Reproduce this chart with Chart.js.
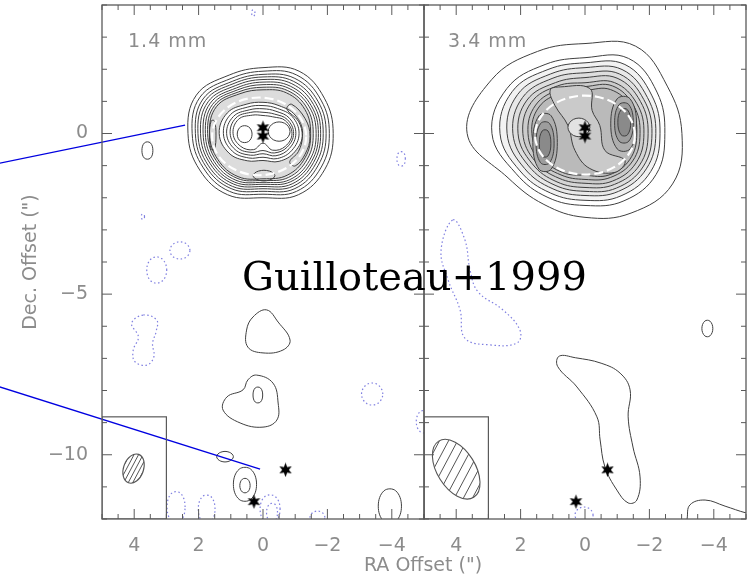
<!DOCTYPE html>
<html>
<head>
<meta charset="utf-8">
<script src="https://cdn.jsdelivr.net/npm/chart.js@4.4.1/dist/chart.umd.min.js"></script>
<style>
  html, body { margin: 0; padding: 0; background: #fff; }
  #wrap { position: relative; width: 752px; height: 578px; overflow: hidden; }
  #wrap canvas { position: absolute; top: 0; }
  .txt { position: absolute; font-family: 'DejaVu Sans', sans-serif; color: #8c8c8c; white-space: nowrap; line-height: 1; }
</style>
</head>
<body>
<div id="wrap">
  <canvas id="pLeft" width="426" height="578" style="left:0"></canvas>
  <canvas id="pRight" width="330" height="578" style="left:422px"></canvas>
  <div class="txt" style="left:128px;top:31px;font-size:19px;letter-spacing:1px">1.4 mm</div>
  <div class="txt" style="left:448px;top:31px;font-size:19px;letter-spacing:1px">3.4 mm</div>
  <div class="txt" style="left:0;width:846px;text-align:center;top:555px;font-size:19px">RA Offset (")</div>
  <div class="txt" style="left:242px;top:256px;font-family:'DejaVu Serif',serif;font-size:40px;color:#000">Guilloteau+1999</div>
</div>
<script>
// angles (deg, as seen on screen: 0 = right, 90 = up) at which the ring radii were read
const ANG = [0, 30, 60, 90, 120, 150, 180, 210, 240, 270, 300, 330];
const xTickVals = [4, 2, 0, -2, -4];
const yTickVals = [0, -5, -10];

// ---------- 1.4 mm : radii (arcsec) of the ring contours, outer side ----------
const ring14Out = [
  [2.18, 2.2, 2.24, 2.05, 2.1, 2.39, 2.33, 2.27, 2.2, 2.0, 2.2, 2.22],
  [2.06, 2.08, 2.1, 1.94, 1.98, 2.26, 2.2, 2.14, 2.08, 1.89, 2.08, 2.09],
  [1.96, 1.98, 1.98, 1.84, 1.88, 2.15, 2.1, 2.05, 1.98, 1.8, 1.98, 1.98],
  [1.87, 1.89, 1.88, 1.76, 1.8, 2.06, 2.02, 1.97, 1.9, 1.72, 1.89, 1.89],
  [1.79, 1.81, 1.79, 1.68, 1.72, 1.97, 1.94, 1.89, 1.82, 1.65, 1.81, 1.81],
  [1.72, 1.73, 1.7, 1.6, 1.64, 1.89, 1.86, 1.82, 1.75, 1.58, 1.73, 1.74],
  [1.65, 1.66, 1.62, 1.52, 1.57, 1.81, 1.79, 1.75, 1.68, 1.52, 1.66, 1.67],
  [1.56, 1.58, 1.54, 1.44, 1.5, 1.74, 1.72, 1.68, 1.61, 1.46, 1.58, 1.59],
  [1.48, 1.5, 1.46, 1.36, 1.43, 1.67, 1.66, 1.62, 1.55, 1.41, 1.5, 1.51]
];
// inner side (cavity), down to the peanut round the stars
const ring14In = [
  [1.23, 1.15, 1.0, 0.97, 1.05, 1.28, 1.36, 1.22, 0.98, 0.84, 1.0, 1.14],
  [1.12, 1.05, 0.9, 0.87, 0.95, 1.17, 1.23, 1.1, 0.88, 0.74, 0.9, 1.04],
  [1.02, 0.95, 0.8, 0.77, 0.85, 1.06, 1.13, 1.0, 0.78, 0.63, 0.8, 0.94],
  [0.95, 0.87, 0.7, 0.66, 0.76, 0.97, 1.02, 0.9, 0.68, 0.53, 0.7, 0.86],
  [0.9, 0.8, 0.6, 0.56, 0.66, 0.88, 0.93, 0.8, 0.58, 0.3, 0.6, 0.8]
];
const islands14 = [
  [[1.46, -0.05], [1.51, 0.39], [1.61, 0.39], [1.66, -0.05], [1.61, -0.49], [1.51, -0.49]],
  [[-0.89, 0.91], [-1.31, 0.46], [-1.46, -0.09], [-1.31, -0.64], [-1.0, -1.01], [-0.83, -0.88], [-1.1, -0.56], [-1.22, -0.09], [-1.1, 0.38], [-0.74, 0.76]],
  [[-0.37, -1.31], [-0.2, -1.17], [0.14, -1.17], [0.31, -1.31], [0.14, -1.45], [-0.2, -1.45]]
];
const lobes14 = [
  [[0.34, -0.02], [0.45, 0.21], [0.69, 0.21], [0.8, -0.02], [0.69, -0.25], [0.45, -0.25]],
  [[-0.84, 0.06], [-0.67, 0.32], [-0.33, 0.32], [-0.16, 0.06], [-0.33, -0.2], [-0.67, -0.2]]
];
const pos14 = [
  [[3.42, -0.53], [3.5, -0.29], [3.68, -0.29], [3.76, -0.53], [3.68, -0.77], [3.5, -0.77]],
  [[-0.11, -5.49], [-0.47, -5.87], [-0.84, -6.43], [-0.62, -6.74], [0, -6.83], [0.47, -6.65], [0.51, -6.12], [0.31, -5.71]],
  [[0.2, -7.52], [-0.31, -7.77], [-0.47, -8.39], [-0.43, -8.92], [0, -9.14], [0.71, -9.01], [1.24, -8.61], [1.12, -8.2], [0.62, -7.98], [0.47, -7.67]],
  [[0.01, -8.14], [0.08, -7.92], [0.24, -7.92], [0.31, -8.14], [0.24, -8.36], [0.08, -8.36]],
  [[0.92, -10.06], [1.05, -9.92], [1.31, -9.92], [1.44, -10.06], [1.31, -10.2], [1.05, -10.2]],
  [[0.2, -10.92], [0.38, -10.45], [0.74, -10.45], [0.92, -10.92], [0.74, -11.39], [0.38, -11.39]],
  [[0.4, -10.96], [0.48, -10.76], [0.64, -10.76], [0.72, -10.96], [0.64, -11.16], [0.48, -11.16]],
  [[-4.3, -11.6], [-4.12, -11.12], [-3.76, -11.12], [-3.58, -11.6], [-3.76, -12.08], [-4.12, -12.08]]
];
const neg14 = [
  [[-4.42, -0.79], [-4.36, -0.59], [-4.22, -0.59], [-4.16, -0.79], [-4.22, -0.99], [-4.36, -0.99]],
  [[3.68, -2.59], [3.7, -2.52], [3.76, -2.52], [3.78, -2.59], [3.76, -2.66], [3.7, -2.66]],
  [[2.27, -3.64], [2.42, -3.41], [2.74, -3.41], [2.89, -3.64], [2.74, -3.87], [2.42, -3.87]],
  [[2.99, -4.25], [3.15, -3.89], [3.46, -3.89], [3.61, -4.25], [3.46, -4.61], [3.15, -4.61]],
  [[3.72, -5.65], [3.3, -5.81], [3.32, -6.17], [3.43, -6.53], [3.39, -6.95], [3.61, -7.21], [3.98, -7.1], [4.03, -6.74], [3.87, -6.33], [4.08, -5.91]],
  [[-3.72, -8.11], [-3.55, -7.81], [-3.23, -7.81], [-3.06, -8.11], [-3.23, -8.41], [-3.55, -8.41]],
  [[-5.24, -8.97], [-5.12, -8.66], [-4.88, -8.66], [-4.76, -8.97], [-4.88, -9.28], [-5.12, -9.28]],
  [[2.42, -11.63], [2.56, -11.2], [2.84, -11.2], [2.98, -11.63], [2.84, -12.06], [2.56, -12.06]],
  [[1.49, -11.69], [1.62, -11.3], [1.88, -11.3], [2.01, -11.69], [1.88, -12.08], [1.62, -12.08]],
  [[-0.53, -11.69], [-0.38, -11.3], [-0.06, -11.3], [0.09, -11.69], [-0.06, -12.08], [-0.38, -12.08]],
  [[-0.45, -11.8], [-0.37, -11.54], [-0.2, -11.54], [-0.11, -11.8], [-0.2, -12.06], [-0.37, -12.06]],
  [[-1.92, -11.95], [-1.81, -11.78], [-1.58, -11.78], [-1.46, -11.95], [-1.58, -12.12], [-1.81, -12.12]],
  [[0.25, 3.75], [0.28, 3.84], [0.33, 3.84], [0.35, 3.75], [0.33, 3.66], [0.28, 3.66]]
];

// ---------- 3.4 mm ----------
const ring34 = [
  [3.01, 2.95, 3.14, 2.8, 2.95, 3.35, 3.66, 2.76, 2.55, 2.61, 2.86, 3.14],
  [2.48, 2.58, 2.7, 2.36, 2.48, 2.8, 2.89, 2.48, 2.3, 2.24, 2.42, 2.55],
  [2.33, 2.39, 2.48, 2.2, 2.3, 2.61, 2.64, 2.33, 2.14, 2.08, 2.24, 2.36],
  [2.2, 2.24, 2.3, 2.05, 2.14, 2.42, 2.42, 2.17, 1.99, 1.93, 2.08, 2.2],
  [2.08, 2.11, 2.14, 1.89, 1.99, 2.24, 2.24, 2.02, 1.86, 1.8, 1.96, 2.08],
  [1.96, 1.99, 1.99, 1.74, 1.83, 2.08, 2.08, 1.89, 1.74, 1.68, 1.83, 1.96],
  [1.83, 1.86, 1.83, 1.58, 1.71, 1.93, 1.93, 1.77, 1.61, 1.55, 1.71, 1.83],
  [1.71, 1.74, 1.71, 1.46, 1.58, 1.77, 1.77, 1.65, 1.49, 1.43, 1.58, 1.71],
  [1.61, 1.65, 1.58, 1.34, 1.46, 1.65, 1.65, 1.52, 1.4, 1.3, 1.49, 1.61]
];
const band34 = [[0.77, 1.45], [-0.15, 1.4], [-0.22, 0.72], [-0.46, 0.25], [-0.62, -0.53], [-1.24, -0.84], [-0.93, -1.21], [-0.15, -1.09], [0.31, -0.53], [0.53, 0.25], [0.93, 0.87], [1.08, 1.35]];
const peaks34 = [
  [[0.86, -0.28], [1.05, 0.55], [1.43, 0.55], [1.62, -0.28], [1.43, -1.11], [1.05, -1.11]],
  [[0.96, -0.3], [1.1, 0.31], [1.38, 0.31], [1.52, -0.3], [1.38, -0.91], [1.1, -0.91]],
  [[1.06, -0.31], [1.15, 0.08], [1.33, 0.08], [1.42, -0.31], [1.33, -0.7], [1.15, -0.7]],
  [[-1.6, 0.3], [-1.4, 1.08], [-1.0, 1.08], [-0.8, 0.3], [-1.0, -0.48], [-1.4, -0.48]],
  [[-1.5, 0.33], [-1.36, 0.9], [-1.06, 0.9], [-0.92, 0.33], [-1.06, -0.24], [-1.36, -0.24]],
  [[-1.42, 0.35], [-1.32, 0.74], [-1.12, 0.74], [-1.02, 0.35], [-1.12, -0.04], [-1.32, -0.04]]
];
const hole34 = [[-0.15, 0.19], [0.02, 0.44], [0.36, 0.44], [0.53, 0.19], [0.36, -0.06], [0.02, -0.06]];
const pos34 = [
  [[-3.97, -6.07], [-3.88, -5.84], [-3.72, -5.84], [-3.63, -6.07], [-3.72, -6.3], [-3.88, -6.3]],
  [[0.8, -6.93], [0.3, -6.98], [-0.5, -7.15], [-1.09, -7.46], [-1.4, -7.98], [-1.34, -8.82], [-1.49, -9.76], [-1.71, -10.69], [-1.61, -11.41], [-1.34, -11.5], [-0.99, -11.1], [-0.62, -10.38], [-0.47, -9.54], [-0.37, -8.82], [0.25, -7.89], [0.85, -7.25]],
  [[-3.17, -12.0], [-3.26, -11.56], [-3.73, -11.41], [-4.35, -11.6], [-5.0, -11.81], [-5.5, -11.9], [-5.5, -12.5], [-3.1, -12.5]]
];
const neg34 = [
  [[4.1, -2.69], [3.73, -3.31], [3.57, -4.25], [3.32, -4.93], [2.55, -5.49], [2.02, -6.12], [2.11, -6.52], [2.95, -6.58], [3.73, -6.37], [3.88, -5.49], [4.25, -4.56], [4.47, -3.63]],
  [[-0.25, -11.88], [-0.11, -11.66], [0.17, -11.66], [0.31, -11.88], [0.17, -12.1], [-0.11, -12.1]]
];

// stars (GG Tau Aa/Ab, Ba/Bb) and the two leader lines
const stars = [[0, 0.18], [0, -0.08], [-0.7, -10.47], [0.28, -11.46]];
const leaders = [
  [[8.2, -0.93], [2.42, 0.26]],
  [[8.2, -7.88], [0.09, -10.45]]
];
// ring fit ellipse [x, y, a, b], beam [x, y, bmaj, bmin, PA], beam box [x0, x1, y0, y1]
const ringFit14 = [0.12, -0.09, 1.46, 1.21];
const ringFit34 = [0, -0.05, 1.55, 1.23];
const beam14 = [4.02, -10.43, 0.47, 0.31, 20];
const beam34 = [4.0, -10.45, 1.03, 0.59, -32];
const beamBox = [5, 3, -12, -8.82];

// grey levels used for the shaded contours
const fill14Out = [null, null, null, null, null, null, null, '#e6e6e6', '#dcdcdc'];
const fill14In = ['#ffffff', null, null, null, null];
const fill34 = [null, null, '#f2f2f2', '#e8e8e8', '#dedede', '#d5d5d5', '#cccccc', '#c3c3c3', '#bababa'];
const fillPeaks = ['#aeaeae', '#9d9d9d', '#8a8a8a', '#aeaeae', '#9d9d9d', '#8a8a8a'];

const TXT = '#8c8c8c', LINE = '#3f3f3f', NEG = '#7f7fe0';
Chart.defaults.font.family = "'DejaVu Sans', sans-serif";

function pts(list) { return list.map(p => ({x: p[0], y: p[1]})); }
function polar(cx, cy, radii) {
  return radii.map((r, i) => ({
    x: cx - r * Math.cos(ANG[i] * Math.PI / 180),
    y: cy + r * Math.sin(ANG[i] * Math.PI / 180)
  }));
}
function contour(data, fillColor, extra) {
  return Object.assign({
    data, closed: true, borderColor: LINE, borderWidth: 1, tension: 0.4, pointRadius: 0,
    fill: fillColor ? 'shape' : false, backgroundColor: fillColor || 'rgba(0,0,0,0)'
  }, extra || {});
}
function dotted(data) { return contour(data, null, {borderColor: NEG, borderWidth: 1.2, borderDash: [1.5, 2.5]}); }
const fmt = v => (v < 0 ? '\u2212' + Math.abs(v) : String(v));

// filled six-pointed star used as point style
const starImg = document.createElement('canvas');
starImg.width = 15; starImg.height = 15;
(function () {
  const g = starImg.getContext('2d');
  g.translate(7.5, 7.5);
  g.beginPath();
  for (let k = 0; k < 12; k++) {
    const r = k % 2 ? 3.3 : 7.2;
    const a = -Math.PI / 2 + k * Math.PI / 6;
    g.lineTo(r * Math.cos(a), r * Math.sin(a));
  }
  g.closePath(); g.fillStyle = '#000'; g.fill();
})();
const starSet = () => ({data: pts(stars), showLine: false, pointStyle: starImg, pointRadius: 7});

// close the contour paths (same mechanism the radar chart uses)
const closeLoops = {
  id: 'closeLoops',
  afterDatasetUpdate(chart, args) {
    const ds = chart.data.datasets[args.index];
    if (ds.closed && args.meta.dataset) {
      args.meta.dataset._loop = true;
      args.meta.dataset._fullLoop = true;
    }
  }
};

// ring fit, beam, frame and inward ticks
const decor = {
  id: 'decor',
  afterDatasetsDraw(chart, args, o) {
    const {ctx, chartArea: a} = chart;
    const xs = chart.scales.x, ys = chart.scales.y;
    const X = v => xs.getPixelForValue(v), Y = v => ys.getPixelForValue(v);
    const kx = Math.abs(X(1) - X(0)), ky = Math.abs(Y(1) - Y(0));
    ctx.save();
    ctx.beginPath(); ctx.rect(a.left, a.top, a.right - a.left, a.bottom - a.top); ctx.clip();

    ctx.beginPath();
    ctx.ellipse(X(o.ring[0]), Y(o.ring[1]), o.ring[2] * kx, o.ring[3] * ky, 0, 0, 2 * Math.PI);
    ctx.setLineDash([9, 4]); ctx.lineWidth = 2.2; ctx.strokeStyle = '#fff'; ctx.stroke();
    ctx.setLineDash([]);

    const [bx, by, bmaj, bmin, pa] = o.beam;
    ctx.save();
    ctx.translate(X(bx), Y(by));
    ctx.beginPath(); ctx.ellipse(0, 0, bmin * kx, bmaj * ky, pa * Math.PI / 180, 0, 2 * Math.PI);
    ctx.save(); ctx.clip();
    const ha = o.hatchAngle * Math.PI / 180, dx = Math.cos(ha), dy = -Math.sin(ha);
    const R = bmaj * ky + 3;
    ctx.beginPath();
    for (let t = -R; t <= R; t += o.hatchGap) {
      const cx = -dy * t, cy = dx * t;
      ctx.moveTo(cx - dx * R, cy - dy * R); ctx.lineTo(cx + dx * R, cy + dy * R);
    }
    ctx.lineWidth = 1; ctx.strokeStyle = '#555'; ctx.stroke();
    ctx.restore();
    ctx.beginPath(); ctx.ellipse(0, 0, bmin * kx, bmaj * ky, pa * Math.PI / 180, 0, 2 * Math.PI);
    ctx.lineWidth = 1.1; ctx.strokeStyle = '#555'; ctx.stroke();
    ctx.restore();

    const bl = X(beamBox[0]), br = X(beamBox[1]), bt = Y(beamBox[3]), bb = Y(beamBox[2]);
    ctx.lineWidth = 1.2; ctx.strokeStyle = '#5a5a5a';
    ctx.strokeRect(bl, bt, br - bl, bb - bt);
    ctx.restore();

    ctx.save();
    ctx.strokeStyle = '#5a5a5a'; ctx.lineWidth = 1.3;
    ctx.strokeRect(a.left, a.top, a.right - a.left, a.bottom - a.top);
    ctx.lineWidth = 1;
    ctx.beginPath();
    for (let v = -5; v <= 5.001; v += 0.5) {
      const p = X(v);
      const len = Math.abs(v / 2 - Math.round(v / 2)) < 1e-6 ? 10 : 5;
      ctx.moveTo(p, a.bottom); ctx.lineTo(p, a.bottom - len);
      ctx.moveTo(p, a.top); ctx.lineTo(p, a.top + len);
    }
    for (let v = -12; v <= 4; v += 1) {
      const p = Y(v);
      const len = v % 5 === 0 ? 10 : 5;
      ctx.moveTo(a.left, p); ctx.lineTo(a.left + len, p);
      ctx.moveTo(a.right, p); ctx.lineTo(a.right - len, p);
    }
    ctx.stroke();
    ctx.restore();
  }
};

function withOrder(list) {
  list.forEach((d, i) => { d.order = list.length - i; });
  return list;
}

// ---- datasets, drawn in array order (outer first) ----
const ds14 = [];
ring14Out.forEach((r, i) => ds14.push(contour(polar(0, 0, r), fill14Out[i])));
ring14In.forEach((r, i) => ds14.push(contour(polar(0, 0, r), fill14In[i])));
islands14.forEach(p => ds14.push(contour(pts(p))));
lobes14.forEach(p => ds14.push(contour(pts(p))));
pos14.forEach(p => ds14.push(contour(pts(p))));
neg14.forEach(p => ds14.push(dotted(pts(p))));
ds14.push(starSet());
leaders.forEach(l => ds14.push({data: pts(l), borderColor: '#0000e0', borderWidth: 1.3, pointRadius: 0, tension: 0, clip: false}));

const ds34 = [];
ring34.forEach((r, i) => ds34.push(contour(polar(0, 0, r), fill34[i])));
ds34.push(contour(pts(band34), '#cacaca'));
peaks34.forEach((p, i) => ds34.push(contour(pts(p), fillPeaks[i])));
ds34.push(contour(pts(hole34), '#e2e2e2'));
pos34.forEach(p => ds34.push(contour(pts(p))));
neg34.forEach(p => ds34.push(dotted(pts(p))));
ds34.push(starSet());

function panel(datasets, decorOpts, showY) {
  return {
    type: 'line',
    data: {datasets: withOrder(datasets)},
    options: {
      responsive: false, animation: false, events: [],
      layout: {autoPadding: false, padding: showY ? {left: 0, top: 5, right: 2, bottom: 0} : {left: 2, top: 5, right: 6, bottom: 0}},
      elements: {line: {capBezierPoints: false}},
      plugins: {legend: {display: false}, tooltip: {enabled: false}, decor: decorOpts},
      scales: {
        x: {
          type: 'linear', min: -5, max: 5, reverse: true,
          grid: {display: false, drawTicks: false}, border: {display: false},
          afterBuildTicks: s => { s.ticks = xTickVals.map(v => ({value: v})); },
          ticks: {padding: 16, color: TXT, font: {size: 19}, maxRotation: 0, autoSkip: false, callback: fmt},
          afterFit: s => { s.height = 59; s.paddingLeft = 0; s.paddingRight = 0; }
        },
        y: {
          type: 'linear', min: -12, max: 4, display: showY,
          grid: {display: false, drawTicks: false}, border: {display: false},
          afterBuildTicks: s => { s.ticks = yTickVals.map(v => ({value: v})); },
          ticks: {padding: 14, color: TXT, font: {size: 19}, callback: fmt},
          title: {display: true, text: 'Dec. Offset (")', color: TXT, font: {size: 19}, padding: {top: 20, bottom: 0}},
          afterFit: s => { if (showY) s.width = 102; s.paddingTop = 0; s.paddingBottom = 0; }
        }
      }
    },
    plugins: [closeLoops, decor]
  };
}

new Chart(document.getElementById('pLeft'), panel(ds14, {ring: ringFit14, beam: beam14, hatchAngle: 62, hatchGap: 4}, true));
new Chart(document.getElementById('pRight'), panel(ds34, {ring: ringFit34, beam: beam34, hatchAngle: 62, hatchGap: 8}, false));
</script>
</body>
</html>
